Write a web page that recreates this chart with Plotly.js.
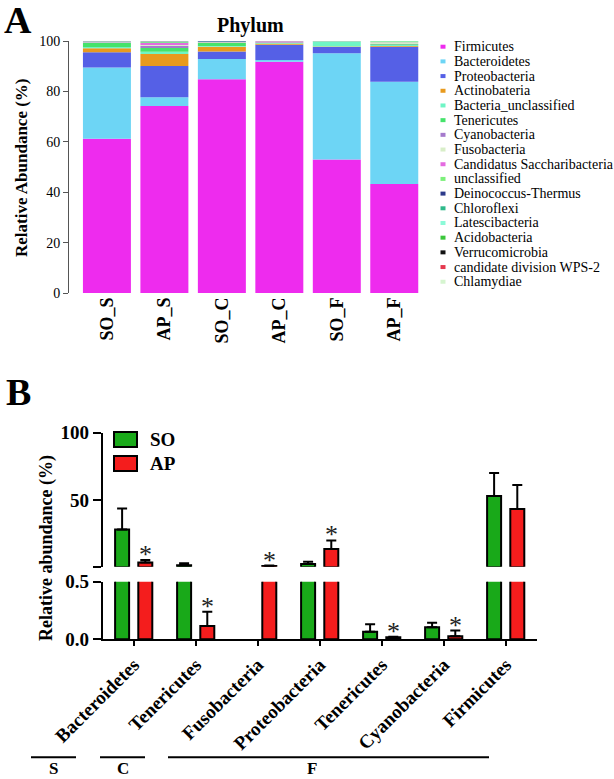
<!DOCTYPE html>
<html><head><meta charset="utf-8">
<script src="https://cdn.plot.ly/plotly-3.0.1.min.js"></script>
<style>html,body{margin:0;padding:0;background:#fff}</style>
</head><body>
<div id="chart" style="width:614px;height:779px"></div>
<script>
// ---------- Panel A data: relative abundance (%) per sample ----------
const samples = ['SO_S', 'AP_S', 'SO_C', 'AP_C', 'SO_F', 'AP_F'];
const phyla = ['Firmicutes', 'Bacteroidetes', 'Proteobacteria', 'Actinobateria', 'Bacteria_unclassified',
  'Tenericutes', 'Cyanobacteria', 'Fusobacteria', 'Candidatus Saccharibacteria', 'unclassified',
  'Deinococcus-Thermus', 'Chloroflexi', 'Latescibacteria', 'Acidobacteria', 'Verrucomicrobia',
  'candidate division WPS-2', 'Chlamydiae'];
const phylaColors = ['#EE2BEE', '#6DD5F5', '#5560E6', '#E89A1E', '#6FF5C5',
  '#45E36B', '#A57ACC', '#D8EEC8', '#E46BE0', '#7CF07A',
  '#2C3A8A', '#2FB98A', '#8CFAD8', '#3BC63B', '#111111',
  '#E5394F', '#D6F5D0'];
const firmicutes      = [61.2, 74.2, 84.8, 91.8, 53.0, 43.3];
const bacteroidetes   = [28.3, 3.5, 8.1, 0.7, 42.1, 40.5];
const proteobacteria  = [6.0, 12.4, 2.9, 6.0, 2.5, 13.9];
const actinobacteria  = [1.6, 4.7, 1.9, 0.4, 0.2, 0.3];
const bactUnclass     = [0.5, 0.9, 0.3, 0.2, 2.0, 0.4];
const tenericutes     = [1.7, 1.5, 1.2, 0.2, 0.05, 0.3];
const cyanobacteria   = [0.2, 0.9, 0.1, 0.2, 0.05, 0.1];
const fusobacteria    = [0.1, 0.3, 0.1, 0.05, 0.02, 0.6];
const saccharibact    = [0.2, 0.8, 0.1, 0.4, 0.02, 0.1];
const unclassified    = [0.1, 0.3, 0.1, 0.05, 0.02, 0.2];
const deinococcus     = [0.05, 0.05, 0.3, 0.01, 0.01, 0.02];
const chloroflexi     = [0.02, 0.1, 0.05, 0.01, 0.01, 0.02];
const latescibacteria = [0.02, 0.05, 0.02, 0.01, 0.01, 0.2];
const acidobacteria   = [0.02, 0.05, 0.02, 0.01, 0.01, 0.05];
const verrucomicrobia = [0.01, 0.02, 0.05, 0.01, 0.01, 0.01];
const wps2            = [0.01, 0.05, 0.01, 0.01, 0.01, 0.01];
const chlamydiae      = [0.01, 0.02, 0.01, 0.01, 0.01, 0.01];
const phylaSeries = [firmicutes, bacteroidetes, proteobacteria, actinobacteria, bactUnclass,
  tenericutes, cyanobacteria, fusobacteria, saccharibact, unclassified, deinococcus,
  chloroflexi, latescibacteria, acidobacteria, verrucomicrobia, wps2, chlamydiae];

// ---------- Panel B data ----------
const bCategories = ['Bacteroidetes', 'Tenericutes', 'Fusobacteria', 'Proteobacteria', 'Tenericutes', 'Cyanobacteria', 'Firmicutes'];
const soMean = [28.2, 1.5, null, 2.5, 0.066, 0.104, 53.0];
const soErr  = [15.6, 1.5, 0, 1.7, 0.064, 0.04, 17.0];
const apMean = [3.7, 0.115, 1.0, 13.6, 0.017, 0.026, 43.3];
const apErr  = [1.8, 0.125, 0.3, 6.4, 0.006, 0.05, 17.8];
const apSignificant = [true, true, true, true, true, true, false];
const seriesNames = ['SO', 'AP'];
const groupLabels = ['S', 'C', 'F'];

// ---------- helpers ----------
const W = 614, H = 779;
const px = v => v / W;
const py = v => 1 - v / H;
const FONT = 'Liberation Serif';
const GREEN = '#19A919', RED = '#F41D1D';
const BREAK = 0.5;

const traces = [];
// Panel A stacked bars (stack via base)
let cum = samples.map(() => 0);
phylaSeries.forEach((vals, i) => {
  traces.push({
    type: 'bar', x: samples, y: vals, base: cum.slice(),
    width: 0.835, offset: -0.4175,
    marker: {color: phylaColors[i], line: {width: 0}},
    name: phyla[i], xaxis: 'x', yaxis: 'y', showlegend: false
  });
  cum = cum.map((c, j) => c + vals[j]);
});

// Panel B grouped bars (broken axis: lower x2/y3, upper x3/y2)
const xB = bCategories.map((_, i) => i);
const barW = 0.226, half = 0.187;
const zeros = xB.map(() => 0);
function bTrace(name, y, err, color, off, xa, ya) {
  return {
    type: 'bar', name, x: xB, y, width: barW, offset: off,
    marker: {color, line: {color: '#000', width: 2}},
    error_y: {type: 'data', symmetric: false, array: err, arrayminus: zeros, color: '#000', thickness: 2, width: 5},
    xaxis: xa, yaxis: ya, showlegend: false
  };
}
const aboveBreak = arr => arr.map(v => (v != null && v > BREAK) ? v : null);
traces.push(bTrace('SO', soMean, soErr, GREEN, -half - barW / 2, 'x2', 'y3'));
traces.push(bTrace('AP', apMean, apErr, RED, half - barW / 2, 'x2', 'y3'));
traces.push(bTrace('SO', aboveBreak(soMean), soErr, GREEN, -half - barW / 2, 'x3', 'y2'));
traces.push(bTrace('AP', aboveBreak(apMean), apErr, RED, half - barW / 2, 'x3', 'y2'));

const annotations = [];
const shapes = [];
const txt = (text, x, y, size, opts = {}) => Object.assign({
  text, x, y, xref: 'paper', yref: 'paper', showarrow: false,
  xanchor: 'center', yanchor: 'middle',
  font: {family: FONT, size, color: '#000', weight: 'bold'}
}, opts);

// panel labels & titles
annotations.push(txt('A', px(18), py(19.5), 38));
annotations.push(txt('B', px(18), py(391.5), 38));
annotations.push(txt('Phylum', px(250), py(25), 20));
annotations.push(txt('Relative Abundance (%)', px(22), py(168), 17, {textangle: -90}));
annotations.push(txt('Relative abundance (%)', px(46), py(548), 18, {textangle: -90}));

// Panel A legend (compact)
phyla.forEach((name, i) => {
  const yc = 46.7 + i * 14.69;
  shapes.push({type: 'rect', xref: 'paper', yref: 'paper', x0: px(440.5), x1: px(445.5), y0: py(yc + 2), y1: py(yc - 2),
    fillcolor: phylaColors[i], line: {width: 0}});
  annotations.push(txt(name, px(452), py(yc), 14, {xanchor: 'left', font: {family: FONT, size: 14, color: '#000'}}));
});

// Panel B legend
[[GREEN, 432, 447], [RED, 456, 471]].forEach(([c, y0, y1], i) => {
  shapes.push({type: 'rect', xref: 'paper', yref: 'paper', x0: px(114), x1: px(137), y0: py(y1), y1: py(y0),
    fillcolor: c, line: {color: '#000', width: 2}});
  annotations.push(txt(seriesNames[i], px(148), py((y0 + y1) / 2), 19, {xanchor: 'left'}));
});

// significance stars
apSignificant.forEach((s, i) => {
  if (!s) return;
  const top = apMean[i] + apErr[i];
  const upper = top > BREAK;
  annotations.push({
    text: '*', x: i + half, y: top, xref: upper ? 'x3' : 'x2', yref: upper ? 'y2' : 'y3',
    showarrow: false, xanchor: 'center', yanchor: 'bottom', yshift: -11,
    font: {family: FONT, size: 26, color: '#222'}
  });
});

// group brackets S / C / F
[[31, 76, 53], [100, 145, 123], [168, 489, 312]].forEach(([a, b, c], i) => {
  shapes.push({type: 'line', xref: 'paper', yref: 'paper', x0: px(a), x1: px(b), y0: py(757.3), y1: py(757.3),
    line: {color: '#000', width: 2}});
  annotations.push(txt(groupLabels[i], px(c), py(768.5), 17));
});

const bTick = {family: FONT, size: 19, color: '#000', weight: 'bold'};
const layout = {
  width: W, height: H, autosize: false,
  margin: {l: 0, r: 0, t: 0, b: 0, pad: 0},
  paper_bgcolor: '#fff', plot_bgcolor: 'rgba(0,0,0,0)',
  barmode: 'overlay', showlegend: false,
  font: {family: FONT, color: '#000'},
  xaxis: {domain: [px(69), px(423)], anchor: 'y', type: 'category', range: [-0.66, 5.5],
    showline: false, ticks: '', tickangle: -90, showgrid: false, zeroline: false,
    tickfont: {family: FONT, size: 18, color: '#000', weight: 'bold'}},
  yaxis: {domain: [py(293), py(41)], anchor: 'x', range: [0, 100], tickvals: [0, 20, 40, 60, 80, 100],
    ticks: 'outside', ticklen: 5, tickcolor: '#555', showline: true, linecolor: '#555', linewidth: 1,
    showgrid: false, zeroline: false, tickfont: {family: FONT, size: 14, color: '#000'}},
  xaxis2: {domain: [px(102.7), px(536.7)], anchor: 'y3', range: [-0.5, 6.5], tickvals: xB, ticktext: bCategories,
    tickangle: -45, ticks: 'outside', ticklen: 5, tickwidth: 2, tickcolor: '#000',
    showline: true, linecolor: '#000', linewidth: 2, showgrid: false, zeroline: false,
    tickfont: {family: FONT, size: 19, color: '#000', weight: 'bold'}},
  xaxis3: {domain: [px(102.7), px(536.7)], anchor: 'y2', range: [-0.5, 6.5], visible: false},
  yaxis2: {domain: [py(566.7), py(432.7)], anchor: 'x3', range: [BREAK, 100], tickvals: [BREAK, 50, 100], ticktext: ['', '50', '100'],
    ticks: 'outside', ticklen: 8, tickwidth: 2, tickcolor: '#000', showline: true, linecolor: '#000', linewidth: 2,
    showgrid: false, zeroline: false, tickfont: bTick},
  yaxis3: {domain: [py(639.3), py(581.7)], anchor: 'x2', range: [0, BREAK], tickvals: [0, BREAK], ticktext: ['0.0', '0.5'],
    ticks: 'outside', ticklen: 8, tickwidth: 2, tickcolor: '#000', showline: true, linecolor: '#000', linewidth: 2,
    showgrid: false, zeroline: false, tickfont: bTick},
  annotations, shapes
};
Plotly.newPlot('chart', traces, layout, {displayModeBar: false, staticPlot: true});
</script>
</body></html>
